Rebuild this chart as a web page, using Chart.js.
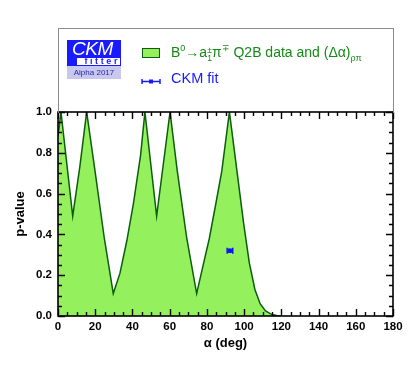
<!DOCTYPE html>
<html>
<head>
<meta charset="utf-8">
<script src="https://cdn.jsdelivr.net/npm/chart.js@4.4.0/dist/chart.umd.min.js"></script>
<style>
body { margin: 0; background: #fff; }
#wrap { position: relative; width: 414px; height: 368px; font-family: "Liberation Sans", Arial, sans-serif; }
#chart { position: absolute; left: 0; top: 0; }
#legbox { position: absolute; left: 58px; top: 28px; width: 334px; height: 84px; border: 1px solid #8c8c8c; border-bottom: none; }
#logo { position: absolute; left: 67px; top: 40px; width: 54px; }
#logo .ckm { height: 17px; background: #1a1aff; color: #fff; font-style: italic; font-size: 19px; line-height: 18px; padding-left: 5px; letter-spacing: -0.5px; }
#logo .fit { height: 7px; background: #fff; border: 1px solid #1a1aff; border-left-width: 10px; color: #1a1aff; font-weight: bold; font-size: 9px; line-height: 7px; text-align: right; letter-spacing: 2.6px; }
#logo .alpha { height: 13px; background: #c8c8ee; color: #2828a8; font-size: 8px; line-height: 13px; text-align: center; }
.sw { position: absolute; left: 142px; top: 48px; width: 16px; height: 8px; background: #94f05c; border: 1px solid #0b5e0b; }
.errsym { position: absolute; left: 141px; top: 79px; width: 20px; height: 5px; }
.leg1 { position: absolute; left: 171px; top: 44px; color: #168a16; font-size: 14px; white-space: nowrap; }
.leg2 { position: absolute; left: 171px; top: 70px; color: #1a1aff; font-size: 14.5px; white-space: nowrap; }
.ss { display: inline-block; vertical-align: -4px; font-size: 8.5px; line-height: 8px; text-align: left; }
sup, sub { font-size: 9px; line-height: 0; }
</style>
</head>
<body>
<div id="wrap">
  <canvas id="chart" width="414" height="368"></canvas>
  <div id="legbox"></div>
  <div id="logo">
    <div class="ckm">CKM</div>
    <div class="fit">fitter</div>
    <div class="alpha">Alpha 2017</div>
  </div>
  <div class="sw"></div>
  <svg class="errsym" width="20" height="5"><line x1="1" y1="2.5" x2="19" y2="2.5" stroke="#1a1aff" stroke-width="1.5"/><line x1="1" y1="0" x2="1" y2="5" stroke="#1a1aff" stroke-width="1.5"/><line x1="19" y1="0" x2="19" y2="5" stroke="#1a1aff" stroke-width="1.5"/><rect x="8" y="0.5" width="4" height="4" fill="#1a1aff"/></svg>
  <div class="leg1">B<sup>0</sup>→a<span class="ss">±<br>1</span>π<sup>∓</sup> Q2B data and (Δα)<sub>ρπ</sub></div>
  <div class="leg2">CKM fit</div>
</div>
<script>
// p-value scan of alpha
var alphaDeg = [0, 1.6, 7.9, 11.7, 15.4, 19.9, 24.9, 29.7, 33.3, 37.0, 40.5, 44.4, 46.7,
    53.0, 60.2, 64.1, 69.2, 74.5, 77.5, 81.3, 85.0, 88.0, 92.1, 96.3, 99.8,
    102.8, 105.8, 108.6, 111.5, 114.5, 117.5, 120.0];
var pValue = [0.88, 1.0, 0.49, 0.73, 1.0, 0.71, 0.38, 0.11, 0.21, 0.37, 0.55, 0.79, 1.0,
    0.49, 1.0, 0.71, 0.38, 0.11, 0.23, 0.38, 0.56, 0.71, 1.0, 0.70, 0.45,
    0.26, 0.13, 0.06, 0.025, 0.009, 0.002, 0.0];

// CKM fit point
var fitAlpha = [92.4];
var fitP = [0.32];
var fitErr = [1.5];

var xTicks = [0, 20, 40, 60, 80, 100, 120, 140, 160, 180];
var yTicks = [0.0, 0.2, 0.4, 0.6, 0.8, 1.0];

var tickFont = { family: '"Liberation Sans Narrow", "Liberation Sans", Arial, sans-serif', size: 11.5, weight: 'bold' };

// frame with inward ticks on all four sides
var framePlugin = {
    id: 'frame',
    afterDraw: function (chart) {
        var c = chart.ctx, a = chart.chartArea;
        var xs = chart.scales.x, ys = chart.scales.y;
        c.save();
        c.strokeStyle = '#000';
        c.lineWidth = 1.6;
        c.strokeRect(a.left, a.top, a.right - a.left, a.bottom - a.top);
        c.lineWidth = 1.4;
        c.beginPath();
        for (var v = 0; v <= 180; v += 5) {
            var px = Math.round(xs.getPixelForValue(v)) + 0.5;
            var len = (v % 20 === 0) ? 7 : 4;
            c.moveTo(px, a.bottom); c.lineTo(px, a.bottom - len);
            c.moveTo(px, a.top); c.lineTo(px, a.top + len);
        }
        for (var i = 0; i <= 20; i++) {
            var py = Math.round(ys.getPixelForValue(i * 0.05)) + 0.5;
            var l = (i % 4 === 0) ? 7 : 4;
            c.moveTo(a.left, py); c.lineTo(a.left + l, py);
            c.moveTo(a.right, py); c.lineTo(a.right - l, py);
        }
        c.stroke();
        c.restore();
    }
};

// horizontal error bar on the fit point
var errPlugin = {
    id: 'errbar',
    afterDatasetsDraw: function (chart) {
        var c = chart.ctx, xs = chart.scales.x, ys = chart.scales.y;
        c.save();
        c.strokeStyle = '#1010ff';
        c.lineWidth = 1.5;
        for (var i = 0; i < fitAlpha.length; i++) {
            var x1 = xs.getPixelForValue(fitAlpha[i] - fitErr[i]);
            var x2 = xs.getPixelForValue(fitAlpha[i] + fitErr[i]);
            var y = ys.getPixelForValue(fitP[i]);
            c.beginPath();
            c.moveTo(x1, y); c.lineTo(x2, y);
            c.moveTo(x1, y - 3); c.lineTo(x1, y + 3);
            c.moveTo(x2, y - 3); c.lineTo(x2, y + 3);
            c.stroke();
        }
        c.restore();
    }
};

var ctx = document.getElementById('chart').getContext('2d');
var myChart = new Chart(ctx, {
    type: 'scatter',
    data: {
        datasets: [{
            type: 'line',
            data: alphaDeg.map(function (a, i) { return { x: a, y: pValue[i] }; }),
            borderColor: '#0b5e0b',
            borderWidth: 1.5,
            backgroundColor: '#94f05c',
            fill: 'origin',
            pointRadius: 0,
            tension: 0,
            order: 2
        }, {
            type: 'scatter',
            data: fitAlpha.map(function (a, i) { return { x: a, y: fitP[i] }; }),
            pointStyle: 'rect',
            pointRadius: 2.5,
            backgroundColor: '#1010ff',
            borderColor: '#1010ff',
            order: 1
        }]
    },
    options: {
        responsive: false,
        animation: false,
        events: [],
        layout: { padding: { top: 112, right: 21, left: 0, bottom: 0 } },
        plugins: { legend: { display: false }, tooltip: { enabled: false } },
        scales: {
            x: {
                type: 'linear', min: 0, max: 180,
                afterFit: function (s) { s.height = 52; },
                afterBuildTicks: function (s) { s.ticks = xTicks.map(function (v) { return { value: v }; }); },
                grid: { display: false, drawTicks: false },
                border: { display: false },
                ticks: { color: '#000', padding: 4, font: tickFont, maxRotation: 0 },
                title: { display: true, text: 'α (deg)', color: '#000', padding: { top: 0, bottom: 17 },
                    font: { family: '"Liberation Sans", Arial, sans-serif', size: 13, weight: 'bold' } }
            },
            y: {
                type: 'linear', min: 0, max: 1,
                afterFit: function (s) { s.width = 58; },
                afterBuildTicks: function (s) { s.ticks = yTicks.map(function (v) { return { value: v }; }); },
                grid: { display: false, drawTicks: false },
                border: { display: false },
                ticks: { color: '#000', padding: 6, font: tickFont, callback: function (v) { return v.toFixed(1); } },
                title: { display: true, text: 'p-value', color: '#000', padding: { top: 13, bottom: 0 },
                    font: { family: '"Liberation Sans", Arial, sans-serif', size: 13, weight: 'bold' } }
            }
        }
    },
    plugins: [framePlugin, errPlugin]
});
</script>
</body>
</html>
